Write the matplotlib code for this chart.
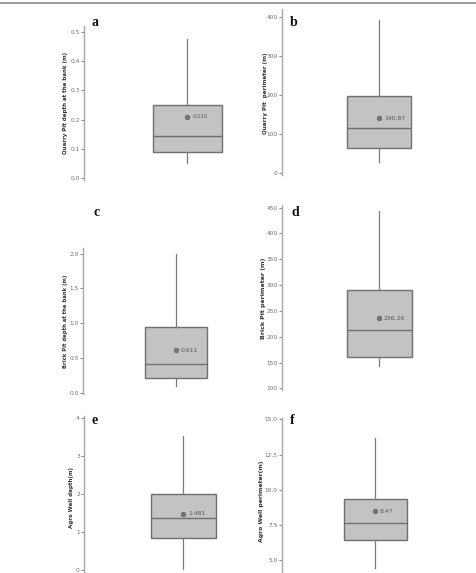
import matplotlib
matplotlib.use("Agg")
import matplotlib.pyplot as plt
from matplotlib.lines import Line2D

W, H = 476, 573
DPI = 100

# ---- data ----
letters = ["a", "b", "c", "d", "e", "f"]
ylabels = ["Quarry Pit depth at the bank (m)", "Quarry Pit  perimeter (m)",
           "Brick Pit depth at the bank (m)", "Brick Pit perimeter (m)",
           "Agro Well depth(m)", "Agro Well perimeter(m)"]
q1 = [0.09, 63, 0.21, 160, 0.84, 6.44]
med = [0.145, 115, 0.41, 213, 1.37, 7.64]
q3 = [0.25, 198, 0.94, 290, 2.0, 9.36]
whislo = [0.05, 28, 0.10, 144, 0.03, 4.43]
whishi = [0.475, 392, 2.0, 444, 3.53, 13.7]
means = [0.210, 140.87, 0.611, 236.26, 1.481, 8.47]
mean_labels = ["0.210", "140.87", "0.611", "236.26", "1.481", "8.47"]
yticks = [[0.0, 0.1, 0.2, 0.3, 0.4, 0.5],
          [0, 100, 200, 300, 400],
          [0.0, 0.5, 1.0, 1.5, 2.0],
          [100, 150, 200, 250, 300, 350, 400, 450],
          [0, 1, 2, 3, 4],
          [5.0, 7.5, 10.0, 12.5, 15.0]]
ytick_fmt = ["{:.1f}", "{:.0f}", "{:.1f}", "{:.0f}", "{:.0f}", "{:.1f}"]
ylims = [(-0.007, 0.52), (-5, 420), (-0.02, 2.08), (97, 455), (-0.05, 4.05), (4.0, 15.1)]

# ---- layout (pixels) ----
spine_x = [84, 282, 83, 282, 84, 282]
center_x = [187, 379, 176, 379, 183, 375]
box_px = [69, 64, 62, 65, 65, 63]
ytop_px = [26, 9, 248, 205, 416, 418]
ybot_px = [180, 175, 394, 390, 572, 574]
label_x = [65, 265, 66, 263, 72, 262]
label_y = [103, 93, 321, 298, 497, 501]
label_fs = [4.0, 4.1, 3.8, 4.5, 4.0, 4.4]
mean_fs = [3.8, 4.4, 4.4, 4.4, 4.4, 4.4]
letter_pos = [(92, 22), (290, 22), (94, 212), (292, 212), (92, 420), (290, 420)]

fig = plt.figure(figsize=(W / DPI, H / DPI), dpi=DPI)
fig.patch.set_facecolor("white")

# top rule
fig.add_artist(Line2D([0, 1], [1 - 2.5 / H, 1 - 2.5 / H], transform=fig.transFigure,
                      color="#8a8a8a", lw=1.2))

for i in range(6):
    half = center_x[i] - spine_x[i]
    left = spine_x[i] / W
    width = 2 * half / W
    bottom = 1 - ybot_px[i] / H
    height = (ybot_px[i] - ytop_px[i]) / H
    ax = fig.add_axes([left, bottom, width, height])
    ax.set_facecolor("none")
    stats = [dict(med=med[i], q1=q1[i], q3=q3[i], whislo=whislo[i],
                  whishi=whishi[i], mean=means[i], fliers=[])]
    ax.bxp(stats, positions=[0], widths=box_px[i] / half, patch_artist=True,
           showmeans=False, showcaps=False,
           boxprops=dict(facecolor="#c3c3c3", edgecolor="#6f6f6f", lw=1.0),
           medianprops=dict(color="#6f6f6f", lw=1.0),
           whiskerprops=dict(color="#7a7a7a", lw=0.9))
    ax.plot([0], [means[i]], marker="o", ms=3.2, mfc="#7a7a7a", mec="#5a5a5a",
            mew=0.5, ls="none", zorder=5)
    ax.text(0.05, means[i], mean_labels[i], fontsize=mean_fs[i],
            color="#555555", va="center", ha="left", zorder=6)
    ax.set_xlim(-1, 1)
    ax.set_ylim(*ylims[i])
    ax.set_yticks(yticks[i])
    ax.set_yticklabels([ytick_fmt[i].format(v) for v in yticks[i]])
    ax.set_xticks([])
    for s in ["top", "right", "bottom"]:
        ax.spines[s].set_visible(False)
    ax.spines["left"].set_color("#a8a8a8")
    ax.spines["left"].set_linewidth(1.0)
    ax.tick_params(axis="y", labelsize=4.2, colors="#707070", length=2, width=0.6, pad=1)
    fig.text(label_x[i] / W, 1 - label_y[i] / H, ylabels[i],
             rotation=90, fontsize=label_fs[i], fontweight="bold", color="#333333",
             ha="center", va="center")
    fig.text(letter_pos[i][0] / W, 1 - letter_pos[i][1] / H, letters[i],
             fontsize=10, fontweight="bold", family="Liberation Serif",
             color="#111111", ha="left", va="center")

fig.savefig("out.png", dpi=DPI, facecolor="white")
